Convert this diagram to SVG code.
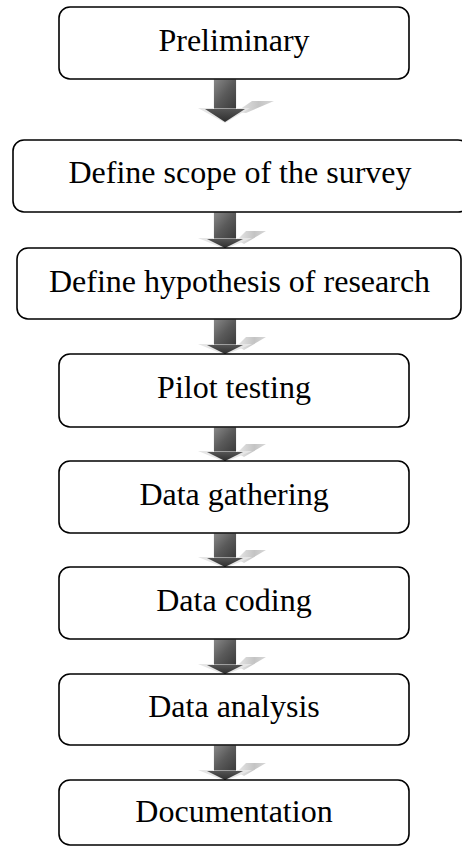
<svg xmlns="http://www.w3.org/2000/svg" width="462" height="847" viewBox="0 0 462 847">
<defs>
<linearGradient id="shaft" x1="0" y1="0" x2="1" y2="1">
<stop offset="0" stop-color="#8a8a8a"/>
<stop offset="0.5" stop-color="#5a5a5a"/>
<stop offset="1" stop-color="#3a3a3a"/>
</linearGradient>
<linearGradient id="head" x1="0" y1="0" x2="0" y2="1">
<stop offset="0" stop-color="#555"/>
<stop offset="1" stop-color="#2e2e2e"/>
</linearGradient>
<linearGradient id="shadow" x1="0" y1="0" x2="1" y2="0">
<stop offset="0" stop-color="#e8e8e8"/>
<stop offset="0.6" stop-color="#c4c4c4"/>
<stop offset="1" stop-color="#d8d8d8"/>
</linearGradient>
</defs>
<style>
.box{fill:#fff;stroke:#000;stroke-width:1.6}
.lbl{font-family:"Liberation Serif","Times New Roman",serif;font-size:32px;fill:#000;text-anchor:middle}
.bev{fill:#e6e6e6}
.sh{fill:url(#shadow)}
.sf{fill:url(#shaft);stroke:#f4f4f4;stroke-width:1}
.hd{fill:url(#head)}
</style>
<g id="connectors">
<g id="a1">
<polygon class="sh" points="236,112 252,101 274,101 246,113"/>
<polygon class="bev" points="198,108 250,108 225,123"/>
<rect class="sf" x="213.5" y="79" width="23" height="30"/>
<polygon class="hd" points="205,109 245,109 225,122"/>
</g>
<g id="a2">
<polygon class="sh" points="237,240 246,231 266,231 244,244"/>
<polygon class="bev" points="198,238 252,238 225,249"/>
<rect class="sf" x="213.5" y="212" width="23" height="27"/>
<polygon class="hd" points="207,239 243,239 225,248"/>
</g>
<g id="a3">
<polygon class="sh" points="237,346 246,337 266,337 244,350"/>
<polygon class="bev" points="198,344 252,344 225,355"/>
<rect class="sf" x="213.5" y="319" width="23" height="26"/>
<polygon class="hd" points="207,345 243,345 225,354"/>
</g>
<g id="a4">
<polygon class="sh" points="237,453 246,444 266,444 244,457"/>
<polygon class="bev" points="198,451 252,451 225,462"/>
<rect class="sf" x="213.5" y="427" width="23" height="25"/>
<polygon class="hd" points="207,452 243,452 225,461"/>
</g>
<g id="a5">
<polygon class="sh" points="237,559 246,550 266,550 244,563"/>
<polygon class="bev" points="198,557 252,557 225,568"/>
<rect class="sf" x="213.5" y="533" width="23" height="25"/>
<polygon class="hd" points="207,558 243,558 225,567"/>
</g>
<g id="a6">
<polygon class="sh" points="237,666 246,657 266,657 244,670"/>
<polygon class="bev" points="198,664 252,664 225,675"/>
<rect class="sf" x="213.5" y="639" width="23" height="26"/>
<polygon class="hd" points="207,665 243,665 225,674"/>
</g>
<g id="a7">
<polygon class="sh" points="237,772 246,763 266,763 244,776"/>
<polygon class="bev" points="198,770 252,770 225,781"/>
<rect class="sf" x="213.5" y="745" width="23" height="26"/>
<polygon class="hd" points="207,771 243,771 225,780"/>
</g>
</g>
<g id="n1"><rect class="box" x="59" y="7" width="350" height="72" rx="11"/><text class="lbl" x="234" y="51">Preliminary</text></g>
<g id="n2"><rect class="box" x="13" y="140" width="456" height="72" rx="11"/><text class="lbl" x="240" y="183">Define scope of the survey</text></g>
<g id="n3"><rect class="box" x="17" y="248" width="444" height="71" rx="11"/><text class="lbl" x="239.5" y="291.5">Define hypothesis of research</text></g>
<g id="n4"><rect class="box" x="59" y="354" width="350" height="73" rx="11"/><text class="lbl" x="234" y="398">Pilot testing</text></g>
<g id="n5"><rect class="box" x="59" y="461" width="350" height="72" rx="11"/><text class="lbl" x="234" y="504.5">Data gathering</text></g>
<g id="n6"><rect class="box" x="59" y="567" width="350" height="72" rx="11"/><text class="lbl" x="234" y="610.5">Data coding</text></g>
<g id="n7"><rect class="box" x="59" y="674" width="350" height="71" rx="11"/><text class="lbl" x="234" y="717">Data analysis</text></g>
<g id="n8"><rect class="box" x="59" y="780" width="350" height="65" rx="11"/><text class="lbl" x="234" y="822">Documentation</text></g>
</svg>
